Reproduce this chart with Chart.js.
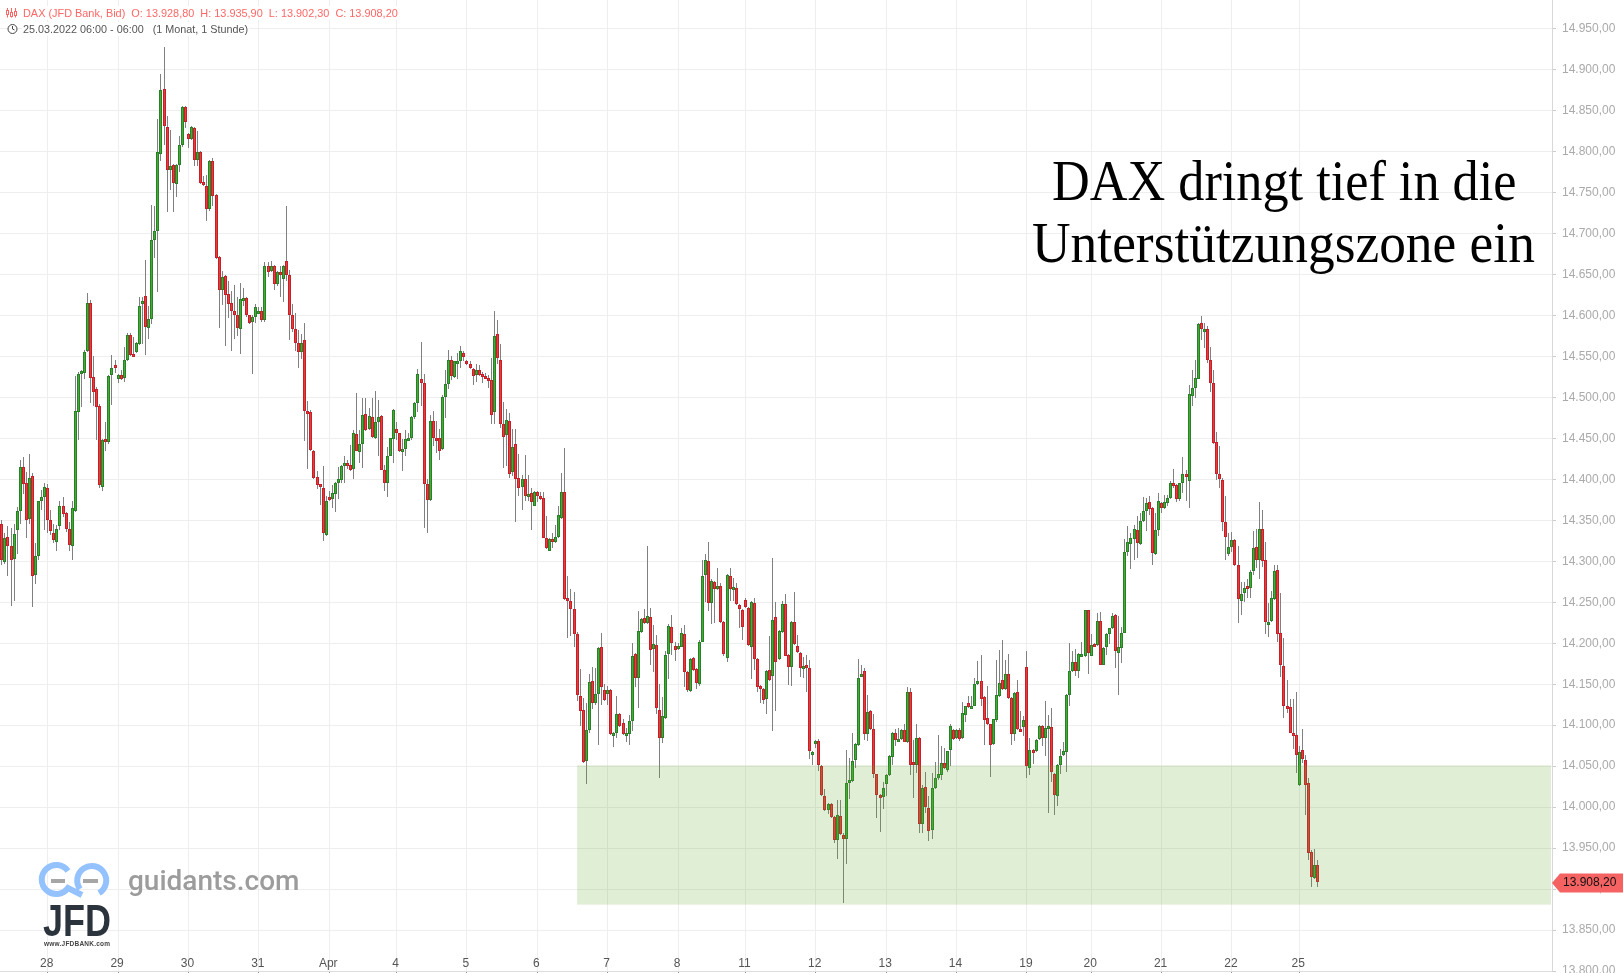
<!DOCTYPE html>
<html lang="de">
<head>
<meta charset="utf-8">
<title>DAX</title>
<script src="https://cdn.jsdelivr.net/npm/chart.js@4/dist/chart.umd.min.js"></script>
<style>
  html, body { margin: 0; background: #fff; overflow: hidden; }
  #wrap { position: relative; width: 1623px; height: 973px; font-family: "Liberation Sans", Arial, sans-serif; }
  canvas { position: absolute; left: 0; top: 0; }
  .info { position: absolute; left: 22px; line-height: 14px; background: rgba(255,255,255,.9); white-space: pre; padding: 0 2px 0 1px; }
  .head { position: absolute; white-space: nowrap; font-family: "Liberation Serif", serif; color: #000; font-size: 58px; line-height: 64px; transform-origin: left top; }
  #brand { position: absolute; left: 128px; top: 864px; font-family: Roboto, sans-serif; font-weight: 500; font-size: 28px; line-height: 34px; color: #9c9c9c; }
  svg { position: absolute; left: 0; top: 0; }
</style>
</head>
<body>
<div id="wrap">
  <canvas id="chart" width="1623" height="973"></canvas>
  <div class="info" style="top:6px;color:#f66;font-size:10.9px">DAX (JFD Bank, Bid)  O: 13.928,80  H: 13.935,90  L: 13.902,30  C: 13.908,20</div>
  <div class="info" style="top:22px;color:#555;font-size:10.8px">25.03.2022 06:00 - 06:00   (1 Monat, 1 Stunde)</div>
  <div class="head" style="top:149px;left:1052px;transform:scaleX(.901)">DAX dringt tief in die</div>
  <div class="head" style="top:211px;left:1032px;transform:scaleX(.921)">Unterstützungszone ein</div>
  <div id="brand">guidants.com</div>
  <svg width="140" height="973" viewBox="0 0 140 973">
    <path d="M7.5 8v9.5M11.5 8v9.5M15.5 8v9.5" fill="none" stroke="#f66" stroke-width="1"/>
    <g fill="#fff" stroke="#f66" stroke-width="1">
      <rect x="6.5" y="10.5" width="2" height="4"/><rect x="10.5" y="12.5" width="2" height="4"/><rect x="14.5" y="11.5" width="2" height="4"/>
    </g>
    <circle cx="12.5" cy="29" r="4.5" fill="#fff" stroke="#444" stroke-width="1"/>
    <path d="M12.5 26v3l2 1" fill="none" stroke="#444"/>
    <g fill="none" stroke="#94c2ff" stroke-width="6">
      <path d="M68 871A14.5 14.5 0 1 0 68 888L82 895"/>
      <path d="M80 889A14.5 14.5 0 1 1 99 893"/>
    </g>
    <rect x="51" y="879" width="14" height="4" fill="#a6a6a6"/>
    <rect x="83" y="879" width="15" height="4" fill="#a6a6a6"/>
    <text x="43" y="936" font-family="Liberation Sans" font-weight="700" font-size="45" textLength="68" lengthAdjust="spacingAndGlyphs" fill="#2b343d">JFD</text>
    <text x="44" y="946" font-family="Liberation Sans" font-weight="700" font-size="6.5" textLength="66" fill="#444">www.JFDBANK.com</text>
  </svg>
</div>
<script>
const opens = [
  14346,14299,14330,14319,14303,14338,14361,14415,14396,14352,
  14404,14283,14306,14373,14378,14389,14351,14335,14324,14343,
  14368,14359,14339,14319,14361,14482,14528,14530,14557,14615,
  14525,14510,14489,14391,14449,14445,14527,14539,14523,14527,
  14524,14546,14576,14553,14555,14565,14615,14624,14585,14596,
  14692,14703,14797,14876,14830,14777,14784,14761,14784,14808,
  14855,14821,14815,14829,14790,14800,14763,14758,14730,14789,
  14747,14671,14631,14648,14626,14615,14606,14600,14583,14618,
  14621,14600,14592,14598,14605,14606,14594,14660,14654,14660,
  14639,14653,14644,14666,14649,14600,14584,14566,14555,14570,
  14483,14482,14435,14403,14394,14390,14332,14379,14376,14382,
  14396,14399,14417,14420,14417,14413,14455,14433,14443,14480,
  14462,14476,14451,14470,14477,14411,14395,14429,14449,14462,
  14456,14434,14437,14450,14451,14476,14493,14522,14518,14394,
  14375,14471,14451,14450,14437,14501,14516,14546,14525,14543,
  14545,14554,14544,14541,14535,14527,14534,14528,14526,14524,
  14521,14482,14577,14546,14467,14454,14471,14409,14443,14402,
  14391,14401,14380,14383,14368,14385,14380,14377,14328,14313,
  14327,14323,14330,14353,14384,14255,14252,14242,14211,14136,
  14119,14056,14094,14154,14127,14138,14196,14143,14138,14143,
  14088,14090,14114,14103,14089,14089,14105,14187,14158,14214,
  14231,14225,14232,14193,14198,14119,14084,14109,14187,14220,
  14197,14193,14196,14211,14165,14142,14182,14169,14150,14202,
  14283,14300,14249,14275,14269,14270,14226,14182,14282,14267,
  14267,14247,14241,14253,14243,14196,14249,14181,14148,14144,
  14132,14167,14160,14232,14181,14214,14248,14186,14171,14226,
  14197,14188,14169,14174,14170,14066,14077,14081,14050,14013,
  13997,14004,13988,13960,13989,13966,13961,14032,14032,14057,
  14076,14160,14166,14089,14117,14095,14040,14015,14012,14028,
  14039,14061,14091,14082,14083,14094,14079,14140,14055,14052,
  14084,13979,14024,13999,13972,14023,14035,14039,14054,14045,
  14070,14094,14084,14094,14084,14113,14127,14122,14124,14150,
  14154,14134,14109,14101,14077,14106,14135,14155,14144,14162,
  14133,14089,14140,14095,14098,14171,14048,14070,14068,14083,
  14099,14084,14095,14098,14041,14013,14052,14063,14067,14137,
  14166,14177,14166,14184,14184,14240,14185,14199,14198,14227,
  14174,14196,14211,14218,14235,14188,14194,14213,14311,14321,
  14327,14338,14321,14349,14361,14372,14365,14309,14338,14371,
  14365,14371,14377,14395,14393,14376,14395,14407,14398,14502,
  14512,14523,14591,14583,14584,14546,14517,14445,14406,14399,
  14348,14309,14318,14326,14295,14252,14261,14270,14268,14288,
  14318,14302,14340,14301,14223,14227,14254,14289,14212,14172,
  14123,14122,14091,14088,14027,14070,14057,14029,13945,13913,13928.8
];
const closes = [
  14302,14329,14319,14302,14333,14361,14415,14394,14351,14402,
  14282,14307,14373,14378,14391,14351,14337,14326,14339,14368,
  14358,14339,14320,14365,14483,14529,14532,14556,14615,14524,
  14507,14488,14393,14448,14445,14526,14536,14536,14527,14523,
  14546,14576,14552,14552,14566,14612,14618,14586,14596,14692,
  14703,14800,14875,14831,14777,14782,14762,14784,14808,14855,
  14836,14815,14830,14790,14800,14762,14759,14730,14788,14746,
  14670,14631,14647,14625,14614,14606,14600,14585,14620,14621,
  14600,14591,14598,14610,14606,14594,14660,14653,14660,14638,
  14653,14650,14660,14649,14600,14584,14567,14556,14567,14484,
  14481,14436,14402,14393,14391,14335,14373,14375,14383,14396,
  14400,14416,14420,14417,14412,14456,14435,14443,14478,14460,
  14477,14452,14470,14476,14412,14395,14429,14450,14485,14456,
  14434,14437,14449,14451,14476,14493,14528,14517,14394,14375,
  14471,14451,14450,14435,14500,14516,14546,14526,14544,14545,
  14557,14549,14541,14536,14526,14534,14527,14526,14524,14521,
  14478,14575,14548,14468,14452,14472,14407,14439,14401,14390,
  14401,14380,14382,14372,14385,14380,14376,14329,14316,14327,
  14324,14330,14357,14385,14254,14251,14242,14211,14137,14117,
  14055,14094,14153,14127,14138,14194,14147,14131,14143,14089,
  14091,14114,14099,14089,14091,14105,14185,14158,14215,14230,
  14225,14233,14192,14199,14121,14084,14111,14186,14221,14200,
  14192,14197,14213,14165,14143,14181,14167,14152,14202,14282,
  14302,14249,14276,14266,14270,14226,14187,14283,14266,14269,
  14248,14242,14220,14244,14198,14250,14181,14147,14144,14131,
  14166,14155,14228,14177,14215,14248,14185,14171,14226,14199,
  14189,14170,14172,14171,14069,14067,14081,14052,14015,13996,
  14004,13988,13960,13990,13967,13961,14030,14033,14056,14077,
  14158,14162,14089,14116,14095,14041,14015,14012,14023,14039,
  14062,14091,14082,14083,14094,14080,14141,14051,14051,14084,
  13979,14023,14000,13971,14023,14035,14040,14054,14048,14068,
  14099,14083,14094,14083,14115,14123,14122,14123,14150,14154,
  14132,14106,14101,14076,14107,14137,14151,14144,14163,14133,
  14089,14139,14095,14093,14106,14050,14070,14068,14082,14099,
  14084,14096,14099,14043,14015,14052,14062,14068,14137,14166,
  14177,14166,14187,14187,14240,14188,14198,14198,14227,14174,
  14194,14211,14218,14233,14190,14196,14212,14311,14323,14328,
  14340,14322,14349,14361,14371,14364,14310,14338,14374,14365,
  14372,14377,14395,14393,14376,14395,14406,14405,14504,14512,
  14524,14590,14584,14584,14546,14517,14444,14406,14401,14348,
  14330,14317,14326,14295,14254,14260,14268,14268,14287,14316,
  14302,14339,14300,14226,14226,14255,14288,14211,14173,14123,
  14122,14091,14088,14063,14067,14059,14027,13944,13915,13929,13908.2
];
const highs = [
  14350,14334,14343,14341,14346,14366,14424,14427,14409,14431,
  14408,14322,14374,14387,14395,14394,14362,14346,14344,14374,
  14378,14360,14348,14374,14526,14531,14534,14558,14627,14619,
  14550,14513,14492,14449,14470,14527,14552,14546,14528,14533,
  14562,14578,14578,14574,14568,14623,14623,14668,14612,14735,
  14733,14840,14895,14928,14844,14826,14785,14785,14819,14856,
  14856,14823,14831,14830,14825,14801,14770,14772,14790,14792,
  14748,14672,14654,14649,14642,14630,14637,14622,14640,14633,
  14622,14601,14600,14614,14610,14610,14665,14665,14667,14661,
  14654,14660,14661,14733,14655,14614,14603,14582,14577,14591,
  14496,14485,14436,14410,14394,14416,14380,14386,14393,14397,
  14415,14418,14428,14424,14442,14460,14505,14460,14499,14499,
  14487,14499,14508,14497,14478,14417,14440,14451,14486,14470,
  14457,14449,14460,14456,14477,14494,14535,14568,14528,14401,
  14479,14483,14471,14462,14503,14533,14558,14550,14545,14554,
  14563,14557,14546,14545,14536,14541,14539,14531,14530,14527,
  14548,14605,14595,14565,14494,14486,14481,14462,14461,14431,
  14405,14430,14405,14389,14386,14386,14385,14384,14355,14329,
  14334,14344,14367,14408,14438,14282,14266,14263,14214,14169,
  14133,14127,14162,14171,14170,14196,14212,14150,14148,14144,
  14092,14135,14115,14107,14097,14113,14200,14188,14239,14231,
  14242,14319,14243,14222,14210,14150,14134,14191,14224,14235,
  14201,14200,14218,14222,14166,14182,14183,14170,14204,14301,
  14309,14324,14278,14276,14292,14274,14227,14284,14292,14280,
  14273,14248,14242,14255,14244,14252,14255,14182,14149,14145,
  14167,14209,14304,14250,14216,14251,14260,14187,14227,14263,
  14210,14189,14183,14186,14180,14068,14082,14083,14051,14022,
  14005,14005,13989,14009,14009,13968,14070,14060,14090,14078,
  14181,14173,14170,14137,14118,14114,14041,14016,14031,14040,
  14063,14092,14095,14096,14095,14102,14146,14145,14082,14102,
  14085,14027,14043,14013,14042,14055,14088,14075,14072,14069,
  14102,14095,14095,14096,14128,14124,14135,14135,14158,14178,
  14186,14135,14148,14102,14108,14180,14192,14204,14180,14187,
  14134,14141,14155,14117,14111,14191,14084,14071,14083,14100,
  14100,14130,14113,14121,14042,14053,14071,14079,14138,14200,
  14190,14193,14188,14201,14241,14241,14211,14200,14237,14238,
  14195,14212,14219,14237,14236,14233,14220,14327,14343,14334,
  14344,14355,14359,14378,14377,14380,14366,14359,14383,14372,
  14381,14381,14398,14413,14394,14396,14427,14411,14515,14533,
  14546,14591,14599,14591,14587,14561,14533,14458,14441,14402,
  14380,14334,14336,14327,14319,14275,14275,14279,14289,14337,
  14339,14372,14363,14323,14249,14264,14296,14296,14261,14207,
  14155,14132,14132,14140,14074,14095,14063,14035,13948,13949,13935.9
];
const lows = [
  14296,14297,14282,14246,14251,14309,14346,14382,14328,14345,
  14244,14272,14301,14362,14338,14334,14332,14322,14313,14338,
  14354,14336,14313,14301,14360,14448,14488,14522,14555,14493,
  14489,14448,14390,14386,14435,14443,14491,14530,14518,14521,
  14519,14545,14551,14551,14554,14564,14565,14552,14571,14589,
  14670,14629,14789,14808,14726,14753,14726,14745,14775,14805,
  14829,14804,14814,14782,14782,14761,14758,14715,14727,14733,
  14669,14585,14613,14563,14597,14557,14571,14575,14553,14612,
  14598,14590,14528,14591,14604,14592,14592,14647,14653,14631,
  14636,14623,14616,14642,14570,14580,14557,14536,14547,14447,
  14413,14435,14401,14388,14369,14325,14331,14374,14365,14360,
  14376,14396,14396,14413,14410,14401,14434,14420,14414,14459,
  14460,14451,14449,14428,14411,14386,14378,14428,14420,14448,
  14433,14410,14428,14449,14448,14474,14482,14489,14341,14334,
  14373,14441,14432,14424,14436,14475,14510,14521,14524,14523,
  14536,14545,14540,14535,14515,14519,14526,14517,14523,14511,
  14467,14467,14541,14463,14414,14416,14402,14404,14348,14380,
  14362,14373,14373,14338,14367,14372,14375,14328,14315,14312,
  14316,14322,14329,14352,14253,14206,14209,14195,14130,14099,
  14054,14028,14090,14120,14125,14076,14125,14130,14125,14088,
  14073,14084,14098,14088,14079,14076,14093,14146,14121,14213,
  14224,14224,14173,14165,14114,14036,14078,14108,14156,14186,
  14178,14192,14195,14146,14141,14141,14166,14144,14148,14201,
  14250,14239,14223,14225,14265,14225,14184,14177,14251,14251,
  14247,14219,14204,14243,14197,14156,14167,14140,14127,14126,
  14114,14154,14093,14117,14180,14213,14184,14149,14148,14198,
  14188,14159,14157,14140,14059,14052,14072,14044,14013,13995,
  13991,13987,13956,13937,13966,13883,13931,14010,14031,14048,
  14075,14159,14082,14081,14094,14035,13987,13970,13998,14014,
  14038,14051,14075,14081,14082,14079,14078,14039,14011,14042,
  13969,13969,13993,13959,13961,14022,14033,14033,14047,14043,
  14050,14082,14083,14081,14083,14104,14121,14121,14123,14149,
  14123,14076,14100,14037,14076,14104,14134,14143,14143,14132,
  14076,14081,14094,14092,14087,14035,14039,14053,14067,14082,
  14074,14062,13993,14031,13990,14001,14041,14062,14043,14124,
  14165,14160,14158,14183,14183,14163,14184,14197,14197,14173,
  14173,14186,14199,14217,14170,14137,14176,14212,14306,14291,
  14301,14304,14320,14348,14337,14356,14296,14308,14331,14359,
  14364,14367,14376,14390,14372,14373,14383,14374,14365,14489,
  14499,14522,14570,14560,14542,14507,14443,14399,14390,14337,
  14302,14306,14311,14294,14225,14234,14250,14255,14255,14283,
  14292,14279,14293,14211,14208,14226,14253,14201,14159,14109,
  14115,14090,14071,14042,14026,14054,13990,13935,13902,13912,13902.3
];
const xTickIndex = [15,38,61,84,107,129,152,175,198,221,243,266,289,312,335,356,379,402,424];
const xTickLabels = ['28','29','30','31','Apr','4','5','6','7','8','11','12','13','14','19','20','21','22','25'];
const yTickValues = [13800,13850,13900,13950,14000,14050,14100,14150,14200,14250,14300,14350,14400,14450,14500,14550,14600,14650,14700,14750,14800,14850,14900,14950];
const zoneHigh = 14051, zoneLow = 13881, zoneStart = 188;

const fmt = v => v.toFixed(2).replace('.', ',').replace(/\B(?=(\d{3})(?!\d))/g, '.');

const wicks = opens.map((o, i) => ({ x: i, y: [lows[i], highs[i]] }));
const upBodies = [], downBodies = [];
opens.forEach((o, i) => (closes[i] >= o ? upBodies : downBodies).push({ x: i, y: [o, closes[i]] }));

// bars land on fractions of a pixel, the original is crisp
const snapBars = {
  id: 'snapBars',
  beforeDatasetsDraw(chart) {
    chart.getSortedVisibleDatasetMetas().forEach(meta => {
      const isBody = meta.index > 0;
      meta.data.forEach(el => {
        el.x = Math.round(el.x - 0.5) + 0.5;
        let a = Math.round(el.y), b = Math.round(el.base);
        if (isBody && Math.abs(a - b) < 3) b = a + 3;
        el.y = a; el.base = b;
      });
    });
  }
};

const zone = {
  id: 'zone',
  afterDatasetsDraw(chart) {
    const { ctx, scales: { x, y } } = chart;
    const left = x.getPixelForValue(zoneStart), top = y.getPixelForValue(zoneHigh);
    ctx.save();
    ctx.fillStyle = 'rgba(100,170,50,0.2)';
    ctx.fillRect(left, top, chart.chartArea.right - 1 - left, y.getPixelForValue(zoneLow) - top);
    ctx.restore();
  }
};

// the date labels sit inside the plot, just above the axis
const dayLabels = {
  id: 'dayLabels',
  afterDraw(chart) {
    const { ctx, scales: { x } } = chart;
    ctx.save();
    ctx.fillStyle = '#555';
    ctx.font = '12px "Liberation Sans"';
    ctx.textAlign = 'center';
    ctx.textBaseline = 'middle';
    xTickIndex.forEach((idx, i) => ctx.fillText(xTickLabels[i], x.getPixelForValue(idx) - 1, 964));
    ctx.restore();
  }
};

const priceTag = {
  id: 'priceTag',
  afterDraw(chart) {
    const { ctx, scales: { y } } = chart;
    const last = closes[closes.length - 1];
    const py = Math.round(y.getPixelForValue(last)) + 1;
    ctx.save();
    ctx.fillStyle = '#f56262';
    ctx.beginPath();
    ctx.moveTo(1552, py);
    ctx.lineTo(1560, py - 9.5);
    ctx.lineTo(1623, py - 9.5);
    ctx.lineTo(1623, py + 9.5);
    ctx.lineTo(1560, py + 9.5);
    ctx.closePath();
    ctx.fill();
    ctx.fillStyle = '#111';
    ctx.font = '12px "Liberation Sans"';
    ctx.textBaseline = 'middle';
    ctx.fillText(fmt(last), 1563, py);
    ctx.restore();
  }
};

new Chart(document.getElementById('chart').getContext('2d'), {
  type: 'bar',
  data: {
    datasets: [
      { data: wicks, backgroundColor: '#808080', borderWidth: 0, barThickness: 1, order: 3 },
      { data: upBodies, backgroundColor: '#3fb02e', borderColor: '#2b7f2b', borderWidth: 1, barThickness: 3, order: 2 },
      { data: downBodies, backgroundColor: '#ea3a3a', borderColor: '#c4202a', borderWidth: 1, barThickness: 3, order: 1 }
    ]
  },
  options: {
    responsive: false,
    animation: false,
    layout: { padding: 0 },
    datasets: { bar: { grouped: false, borderSkipped: false, inflateAmount: 0 } },
    plugins: { legend: { display: false }, tooltip: { enabled: false } },
    scales: {
      x: {
        type: 'linear', min: -0.6, max: 506.6, offset: false,
        afterBuildTicks: s => { s.ticks = xTickIndex.map(value => ({ value })); },
        afterFit: s => { s.height = 2; s.paddingLeft = 0; s.paddingRight = 0; },
        grid: { offset: false, color: '#eeeeee', tickColor: '#999', tickLength: 2 },
        border: { color: '#dddddd' },
        ticks: { display: false }
      },
      y: {
        position: 'right', min: 13800, max: 14985,
        afterBuildTicks: s => { s.ticks = yTickValues.map(value => ({ value })); },
        afterFit: s => { s.width = 71; s.paddingTop = 0; s.paddingBottom = 0; },
        grid: { color: '#eeeeee', tickColor: '#cccccc', tickLength: 4 },
        border: { color: '#d8d8d8' },
        ticks: {
          autoSkip: false, padding: 6, color: '#aaaaaa',
          font: { family: 'Liberation Sans', size: 12 },
          callback: v => fmt(v)
        }
      }
    }
  },
  plugins: [snapBars, zone, dayLabels, priceTag]
});
</script>
</body>
</html>
